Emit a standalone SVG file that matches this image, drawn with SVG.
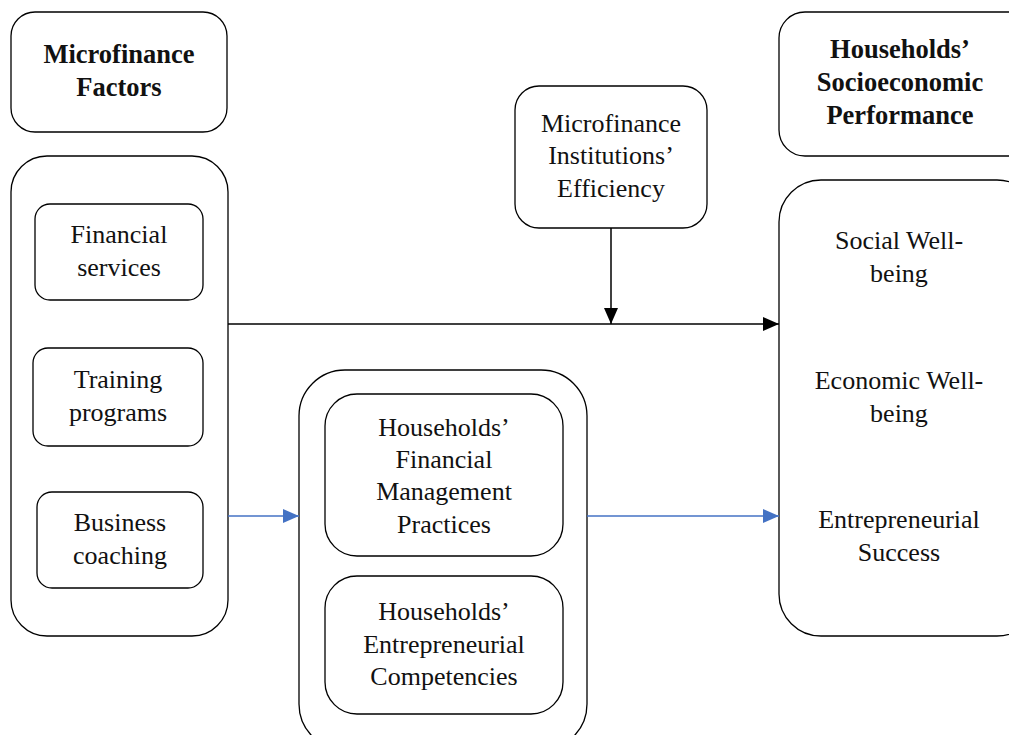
<svg xmlns="http://www.w3.org/2000/svg" width="1009" height="735" viewBox="0 0 1009 735">
<defs>
<marker id="ab" markerWidth="16" markerHeight="14" refX="16" refY="7" orient="auto" markerUnits="userSpaceOnUse"><path d="M0,0 L16,7 L0,14 Z" fill="#000"/></marker>
<marker id="au" markerWidth="16" markerHeight="14" refX="16" refY="7" orient="auto" markerUnits="userSpaceOnUse"><path d="M0,0 L16,7 L0,14 Z" fill="#4472C4"/></marker>
</defs>
<style>
rect{fill:#fff;stroke:#000;stroke-width:1.3}
text{font-family:"Liberation Serif","DejaVu Serif",serif;font-size:26px;fill:#111;text-anchor:middle}
.b{font-weight:bold;font-size:26.5px}
.k{stroke:#000;stroke-width:1.5;fill:none}
.u{stroke:#4472C4;stroke-width:1.5;fill:none}
</style>
<rect width="1009" height="735" style="fill:#fff;stroke:none"/>
<g id="mf-title"><rect x="11" y="12" width="216" height="120" rx="24"/><text class="b" x="119" y="63">Microfinance</text><text class="b" x="119" y="96">Factors</text></g>
<g id="mf-factors"><rect x="11" y="156" width="217" height="480" rx="36"/></g>
<g id="fin-services"><rect x="35" y="204" width="168" height="96" rx="15"/><text x="119" y="243">Financial</text><text x="119" y="276">services</text></g>
<g id="training"><rect x="33" y="348" width="170" height="98" rx="15"/><text x="118" y="388">Training</text><text x="118" y="421">programs</text></g>
<g id="coaching"><rect x="37" y="492" width="166" height="96" rx="15"/><text x="120" y="531">Business</text><text x="120" y="564">coaching</text></g>
<g id="hse-title"><rect x="779" y="12" width="260" height="144" rx="26"/><text class="b" x="900" y="58">Households’</text><text class="b" x="900" y="91">Socioeconomic</text><text class="b" x="900" y="124">Performance</text></g>
<g id="hse-outcomes"><rect x="779" y="180" width="260" height="456" rx="42"/><text x="899" y="249">Social Well-</text><text x="899" y="282">being</text><text x="899" y="389">Economic Well-</text><text x="899" y="422">being</text><text x="899" y="528">Entrepreneurial</text><text x="899" y="561">Success</text></g>
<g id="mfi-eff"><rect x="515" y="86" width="192" height="142" rx="24"/><text x="611" y="132">Microfinance</text><text x="611" y="164">Institutions’</text><text x="611" y="197">Efficiency</text></g>
<g id="mediators"><rect x="299" y="370" width="288" height="380" rx="46"/></g>
<g id="fin-mgmt"><rect x="325" y="394" width="238" height="162" rx="32"/><text x="444" y="436">Households’</text><text x="444" y="468">Financial</text><text x="444" y="500">Management</text><text x="444" y="533">Practices</text></g>
<g id="ent-comp"><rect x="325" y="576" width="238" height="138" rx="32"/><text x="444" y="620">Households’</text><text x="444" y="653">Entrepreneurial</text><text x="444" y="685">Competencies</text></g>
<g id="connectors">
<line class="k" x1="228" y1="324" x2="779" y2="324" marker-end="url(#ab)"/>
<line class="k" x1="611" y1="228" x2="611" y2="324" marker-end="url(#ab)"/>
<line class="u" x1="228" y1="516" x2="299" y2="516" marker-end="url(#au)"/>
<line class="u" x1="587" y1="516" x2="779" y2="516" marker-end="url(#au)"/>
</g>
</svg>
